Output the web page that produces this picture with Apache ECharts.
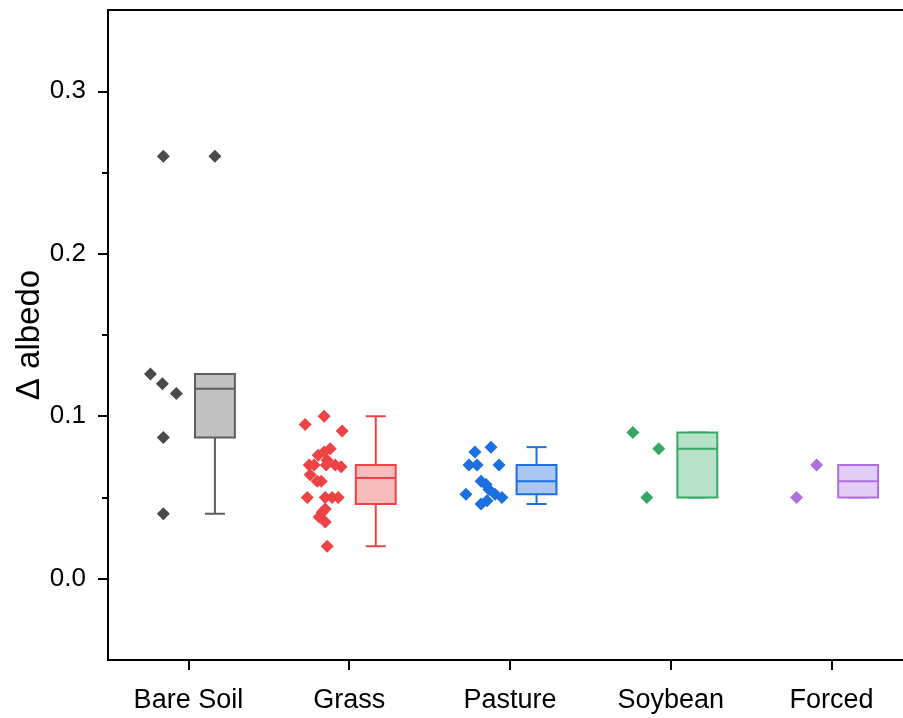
<!DOCTYPE html>
<html>
<head>
<meta charset="utf-8">
<script src="https://cdn.jsdelivr.net/npm/echarts@6/dist/echarts.min.js"></script>
<style>
html,body{margin:0;padding:0;background:#fff;}
#chart{width:903px;height:718px;}
</style>
</head>
<body>
<div id="chart"></div>
<script>
// ---------- data ----------
const categories = ['Bare Soil', 'Grass', 'Pasture', 'Soybean', 'Forced'];
const yTickValues = [0, 0.1, 0.2, 0.3];
const yMinorTickValues = [0.05, 0.15, 0.25];

// individual observations (Δ albedo) and their horizontal jitter (category units)
const bareSoilValues  = [0.26, 0.126, 0.12, 0.114, 0.087, 0.04];
const bareSoilJitter  = [-0.156, -0.236, -0.162, -0.075, -0.156, -0.156];

const grassValues = [0.095, 0.100, 0.091, 0.080, 0.078, 0.076, 0.073, 0.070, 0.070, 0.070, 0.070, 0.069,
                     0.064, 0.060, 0.060, 0.050, 0.050, 0.050, 0.050, 0.041, 0.043, 0.038, 0.035, 0.020];
const grassJitter = [-0.274, -0.156, -0.044, -0.118, -0.156, -0.193, -0.137, -0.249, -0.218, -0.143, -0.087, -0.05,
                     -0.243, -0.199, -0.174, -0.261, -0.149, -0.106, -0.068, -0.168, -0.149, -0.187, -0.149, -0.137];

const pastureValues = [0.081, 0.078, 0.070, 0.070, 0.070, 0.060, 0.058, 0.055, 0.052, 0.052, 0.050, 0.048, 0.046];
const pastureJitter = [-0.118, -0.218, -0.255, -0.205, -0.068, -0.180, -0.149, -0.131, -0.274, -0.093, -0.050, -0.143, -0.180];

const soybeanValues = [0.09, 0.08, 0.05];
const soybeanJitter = [-0.236, -0.075, -0.149];

const forcedValues = [0.07, 0.05];
const forcedJitter = [-0.093, -0.218];

// box statistics: [min, Q1, median, Q3, max]
const bareSoilBox = [0.04, 0.087, 0.117, 0.126, 0.126];
const grassBox    = [0.02, 0.046, 0.062, 0.070, 0.100];
const pastureBox  = [0.046, 0.052, 0.060, 0.070, 0.081];
const soybeanBox  = [0.05, 0.05, 0.08, 0.09, 0.09];
const forcedBox   = [0.05, 0.05, 0.06, 0.07, 0.07];

// outliers drawn at the box position: [categoryIndex, value]
const boxOutliers = [[0, 0.26]];

// ---------- styles ----------
const pointColors = ['#4a4a4a', '#ee4244', '#1c6fde', '#35a866', '#b06fe0'];
const strokeColors = ['#5e5e5e', '#ee4244', '#1c6fde', '#35a866', '#b06fe0'];
const fillColors = ['#c1c1c1', '#f9bcbd', '#a9c7f1', '#b7e1c8', '#e2cef4'];
const boxOffset = 0.165, boxHalf = 0.124, capHalf = 0.062;
const FONT = 'Liberation Sans, Arial, sans-serif';

const allValues = [bareSoilValues, grassValues, pastureValues, soybeanValues, forcedValues];
const allJitter = [bareSoilJitter, grassJitter, pastureJitter, soybeanJitter, forcedJitter];
const allBoxes = [bareSoilBox, grassBox, pastureBox, soybeanBox, forcedBox];

const chart = echarts.init(document.getElementById('chart'));

const series = [];
allValues.forEach((vals, i) => {
  series.push({
    type: 'scatter',
    xAxisIndex: 1, yAxisIndex: 0,
    symbol: 'diamond', symbolSize: 13,
    itemStyle: { color: pointColors[i], opacity: 1 },
    data: vals.map((v, k) => [i + allJitter[i][k], v]),
    z: 3
  });
});

series.push({
  type: 'custom',
  xAxisIndex: 1, yAxisIndex: 0,
  data: allBoxes.map((b, i) => [i].concat(b)),
  encode: { x: 0, y: [1, 2, 3, 4, 5] },
  renderItem: function (params, api) {
    const c = api.value(0) + boxOffset;
    const mn = api.value(1), q1 = api.value(2), md = api.value(3), q3 = api.value(4), mx = api.value(5);
    const stroke = strokeColors[params.dataIndex];
    const fill = fillColors[params.dataIndex];
    const pMin = api.coord([c, mn]), pQ1 = api.coord([c, q1]), pMd = api.coord([c, md]);
    const pQ3 = api.coord([c, q3]), pMax = api.coord([c, mx]);
    const xl = api.coord([c - boxHalf, md])[0], xr = api.coord([c + boxHalf, md])[0];
    const cl = api.coord([c - capHalf, md])[0], cr = api.coord([c + capHalf, md])[0];
    const ls = { stroke: stroke, lineWidth: 2, fill: null };
    return {
      type: 'group',
      children: [
        { type: 'line', shape: { x1: pQ3[0], y1: pQ3[1], x2: pMax[0], y2: pMax[1] }, style: ls },
        { type: 'line', shape: { x1: pQ1[0], y1: pQ1[1], x2: pMin[0], y2: pMin[1] }, style: ls },
        { type: 'line', shape: { x1: cl, y1: pMax[1], x2: cr, y2: pMax[1] }, style: ls },
        { type: 'line', shape: { x1: cl, y1: pMin[1], x2: cr, y2: pMin[1] }, style: ls },
        { type: 'rect', shape: { x: xl, y: pQ3[1], width: xr - xl, height: pQ1[1] - pQ3[1] },
          style: { fill: fill, stroke: stroke, lineWidth: 2 } },
        { type: 'line', shape: { x1: xl, y1: pMd[1], x2: xr, y2: pMd[1] }, style: ls }
      ]
    };
  },
  z: 2
});

series.push({
  type: 'scatter',
  xAxisIndex: 1, yAxisIndex: 0,
  symbol: 'diamond', symbolSize: 13,
  itemStyle: { color: pointColors[0], opacity: 1 },
  data: boxOutliers.map(o => [o[0] + boxOffset, o[1]]),
  z: 3
});

const option = {
  animation: false,
  backgroundColor: '#fff',
  grid: { left: 108, right: -9, top: 10, bottom: 58, show: true, borderColor: '#000', borderWidth: 2,
          outerBoundsMode: 'none', containLabel: false },
  xAxis: [
    {
      type: 'category', data: categories, position: 'bottom', boundaryGap: true,
      axisLine: { show: true, onZero: false, lineStyle: { color: '#000', width: 2 } },
      axisTick: { show: true, alignWithLabel: true, interval: 0, length: 10, lineStyle: { color: '#000', width: 2 } },
      axisLabel: { fontSize: 27, color: '#000', fontFamily: FONT, margin: 27, interval: 0 },
      splitLine: { show: false }
    },
    { type: 'value', min: -0.5, max: 4.5, show: false, position: 'bottom',
      axisLine: { onZero: false } }
  ],
  yAxis: [
    {
      type: 'value', min: -0.05, max: 0.35,
      name: 'Δ albedo', nameLocation: 'middle', nameGap: 62, nameRotate: 90, nameMoveOverlap: false,
      nameTextStyle: { fontSize: 33, color: '#000', fontFamily: FONT },
      axisLine: { show: true, onZero: false, lineStyle: { color: '#000', width: 2 } },
      axisTick: { show: true, customValues: yTickValues, length: 10, lineStyle: { color: '#000', width: 2 } },
      axisLabel: { customValues: yTickValues, fontSize: 26, color: '#000', fontFamily: FONT, margin: 22,
                   formatter: v => v.toFixed(1) },
      splitLine: { show: false }
    },
    {
      type: 'value', min: -0.05, max: 0.35, position: 'left',
      axisLine: { show: false, onZero: false },
      axisTick: { show: true, customValues: yMinorTickValues, length: 6, lineStyle: { color: '#000', width: 2 } },
      axisLabel: { show: false },
      splitLine: { show: false }
    }
  ],
  series: series
};
chart.setOption(option);
</script>
</body>
</html>
